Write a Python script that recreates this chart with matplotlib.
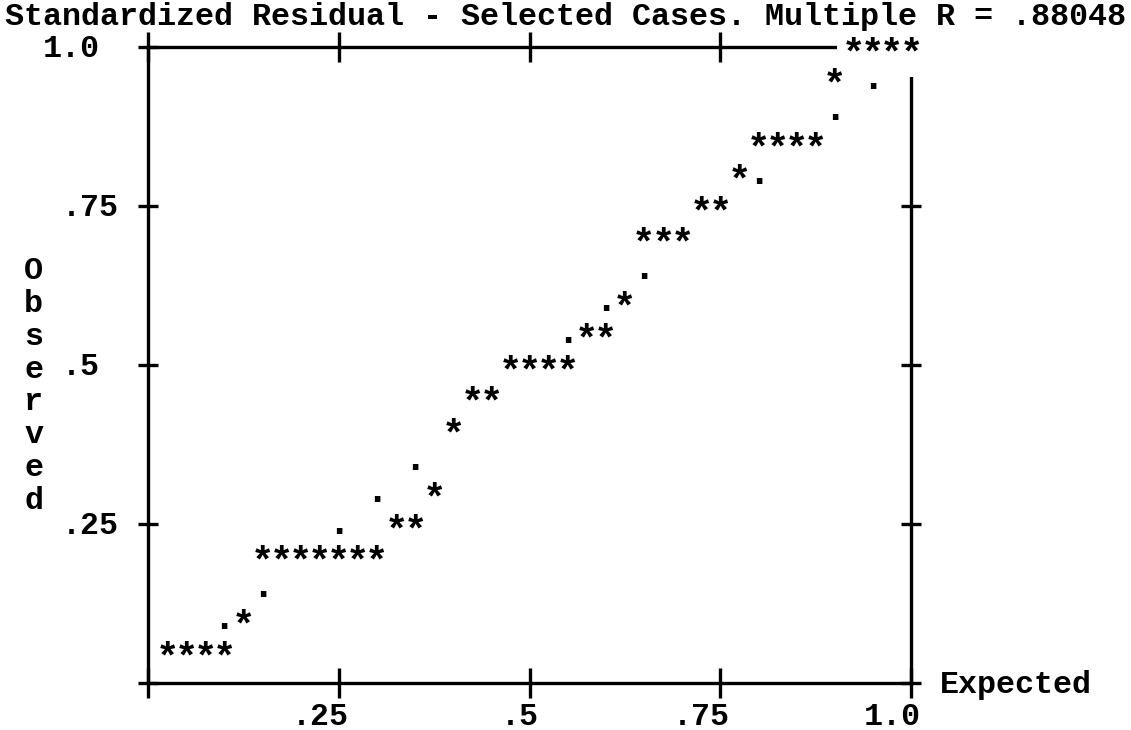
import matplotlib
matplotlib.use("Agg")
import matplotlib.pyplot as plt
from matplotlib.transforms import ScaledTranslation

# cases plotted with "*": expected vs observed cumulative probability
star_expected = [0.025, 0.05, 0.075, 0.1, 0.125, 0.15, 0.175, 0.2, 0.225, 0.25,
                 0.275, 0.3, 0.325, 0.35, 0.375, 0.4, 0.425, 0.45, 0.475, 0.5,
                 0.525, 0.55, 0.575, 0.6, 0.625, 0.65, 0.675, 0.7, 0.725, 0.75,
                 0.775, 0.8, 0.825, 0.85, 0.875, 0.9, 0.925, 0.95, 0.975, 1.0]
star_observed = [0.05, 0.05, 0.05, 0.05, 0.10, 0.20, 0.20, 0.20, 0.20, 0.20,
                 0.20, 0.20, 0.25, 0.25, 0.30, 0.40, 0.45, 0.45, 0.50, 0.50,
                 0.50, 0.50, 0.55, 0.55, 0.60, 0.70, 0.70, 0.70, 0.75, 0.75,
                 0.80, 0.85, 0.85, 0.85, 0.85, 0.95, 1.0, 1.0, 1.0, 1.0]

# visible "." of the reference diagonal (where no case covers it)
line_expected = [0.10, 0.15, 0.25, 0.30, 0.35, 0.55, 0.60, 0.65, 0.80, 0.90, 0.95]
line_observed = [0.10, 0.15, 0.25, 0.30, 0.35, 0.55, 0.60, 0.65, 0.80, 0.90, 0.95]

ticks = [0, 0.25, 0.5, 0.75, 1.0]
x_labels = ["", ".25", ".5", ".75", "1.0"]
y_labels = ["", ".25", ".5", ".75", "1.0"]

title = "Standardized Residual - Selected Cases. Multiple R = .88048"
x_title = "Expected"
y_title = "Observed"

FONT = "Liberation Mono"
FS = 22.9      # text size, one char = 1/40 of the axis width
FS_MARK = 28   # the * and . symbols print a bit bigger
COL = 1 / 40   # one character cell across
ROW = 1 / 20   # one text line down

fig = plt.figure(figsize=(11.31, 7.30), dpi=100)
ax = fig.add_axes([148 / 1131, 47 / 730, 763 / 1131, 636 / 730])
ax.set_xlim(0, 1)
ax.set_ylim(0, 1)

for s in ax.spines.values():
    s.set_linewidth(2.4)
ax.set_xticks(ticks)
ax.set_yticks(ticks)
ax.tick_params(labelbottom=False, labelleft=False, top=True, right=True)
ax.tick_params(axis="x", direction="inout", length=22, width=2.4)
ax.tick_params(axis="y", direction="inout", length=15, width=2.4)


def down(px):
    # shift a text down by px pixels
    return ax.transData + ScaledTranslation(0, -px / 100, fig.dpi_scale_trans)


mark = dict(ha="center", va="baseline", fontsize=FS_MARK, fontweight="bold",
            family=FONT)

# stars on the top row print over the frame line, so blank their cells first
white = dict(boxstyle="square,pad=0.12", fc="white", ec="none")
for x, y in zip(star_expected, star_observed):
    if y >= 1.0:
        ax.text(x, y, "*", transform=down(17), color="white", bbox=white,
                zorder=4, **mark)
for x, y in zip(star_expected, star_observed):
    ax.text(x, y, "*", transform=down(17), zorder=5, **mark)

for x, y in zip(line_expected, line_observed):
    ax.text(x, y, ".", transform=down(9.7), zorder=5, **mark)

txt = dict(fontsize=FS, family=FONT, fontweight="bold", va="baseline")

# tick labels, placed on the character grid
for t, lab in zip(ticks, x_labels):
    if lab:
        ax.text(t + COL / 2, -ROW, lab, transform=down(10), ha="right", **txt)
for t, lab in zip(ticks, y_labels):
    if lab:
        ax.text(-(4.5 + lab.index(".")) * COL, t, lab, transform=down(10),
                ha="left", **txt)

ax.text(41.5 * COL, 0, x_title, transform=down(10), ha="left", **txt)
ax.text(-6 * COL, 9.5 * ROW - 0.008, "\n".join(y_title), ha="center",
        va="center", multialignment="center", linespacing=1.12,
        fontsize=FS, family=FONT, fontweight="bold")
ax.text(-7.5 * COL, 21 * ROW, title, transform=down(10), ha="left", **txt)

fig.savefig("out.png", dpi=100, facecolor="white")
